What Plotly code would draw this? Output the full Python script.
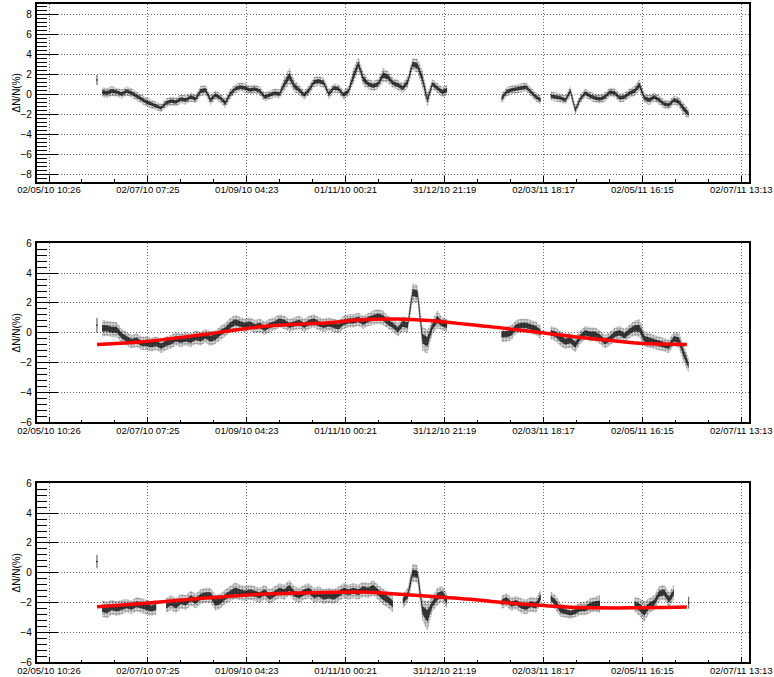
import pandas as pd
import plotly.graph_objects as go

N = None
# ---------------- data ----------------
# sampling times of the read band centres (about every 3 days)
SAMPLE_T = pd.date_range('2010-06-04 01:20', periods=120, freq='4370min')

# panel 1 : band centre and half width (ΔN/N in %)
P1_C = [0.2, 0.1, 0.3, 0.2, 0.0, 0.3, 0.1, -0.2, -0.5, -0.8,
        -1.0, -1.2, -1.4, -0.9, -0.7, -0.8, -0.5, -0.6, -0.3, -0.5,
        0.3, 0.4, -0.6, -0.1, -0.4, -0.9, 0.0, 0.5, 0.7, 0.6,
        0.4, 0.5, 0.3, -0.3, -0.1, 0.1, 0.0, 1.0, 1.8, 0.8,
        0.4, -0.1, 0.4, 1.2, 1.3, 1.1, 0.0, 0.6, 0.5, -0.1,
        0.3, 1.8, 3.0, 1.5, 1.0, 0.8, 1.0, 1.9, 1.7, 1.1,
        0.9, 0.6, 1.2, 3.0, 2.8, 1.5, -0.6, 1.0, 0.6, 0.2,
        0.4, N, N, N, N, N, N, N, N, N,
        N, -0.5, 0.2, 0.4, 0.5, 0.6, 0.7, 0.2, -0.3, -0.6,
        N, -0.2, -0.3, -0.4, -0.6, 0.3, -1.6, -0.5, 0.1, -0.2,
        -0.4, -0.5, -0.3, 0.2, 0.1, -0.4, -0.3, 0.1, 0.3, 0.9,
        -0.4, -0.6, -0.3, -0.6, -1.0, -1.1, -0.6, -0.8, -1.5, -2.0]
P1_S = [0.5, 0.5, 0.5, 0.45, 0.45, 0.45, 0.45, 0.45, 0.45, 0.45,
        0.45, 0.45, 0.4, 0.45, 0.45, 0.45, 0.45, 0.45, 0.45, 0.45,
        0.5, 0.5, 0.5, 0.45, 0.45, 0.5, 0.5, 0.45, 0.45, 0.45,
        0.45, 0.45, 0.45, 0.45, 0.45, 0.45, 0.45, 0.7, 0.8, 0.6,
        0.5, 0.45, 0.5, 0.5, 0.5, 0.5, 0.5, 0.45, 0.45, 0.45,
        0.5, 0.8, 0.7, 0.7, 0.5, 0.5, 0.5, 0.7, 0.6, 0.5,
        0.5, 0.5, 0.6, 0.6, 0.7, 0.9, 0.7, 0.5, 0.5, 0.5,
        0.5, N, N, N, N, N, N, N, N, N,
        N, 0.5, 0.45, 0.45, 0.45, 0.45, 0.45, 0.45, 0.45, 0.45,
        N, 0.45, 0.45, 0.45, 0.45, 0.5, 0.5, 0.45, 0.45, 0.45,
        0.45, 0.45, 0.45, 0.45, 0.45, 0.45, 0.45, 0.45, 0.5, 0.6,
        0.5, 0.5, 0.45, 0.45, 0.45, 0.45, 0.45, 0.5, 0.6, 0.5]

# panel 2
P2_C = [0.3, 0.3, 0.2, 0.2, -0.2, -0.4, -0.6, -0.5, -0.7, -0.7,
        -0.8, -0.7, -0.9, -0.7, -0.6, -0.4, -0.5, -0.4, -0.5, -0.3,
        -0.4, -0.2, -0.4, -0.3, 0.0, 0.2, 0.5, 0.7, 0.6, 0.5,
        0.6, 0.4, 0.5, 0.3, 0.5, 0.6, 0.8, 0.7, 0.5, 0.6,
        0.7, 0.5, 0.7, 0.8, 0.6, 0.5, 0.6, 0.5, 0.4, 0.7,
        0.8, 0.8, 0.9, 0.7, 0.9, 1.0, 1.1, 1.0, 0.7, 0.5,
        0.2, 0.6, 0.5, 2.7, 2.6, -0.4, -0.6, 0.4, 0.9, 0.6,
        0.5, N, N, N, N, N, N, N, N, N,
        N, -0.1, -0.1, 0.0, 0.4, 0.5, 0.5, 0.4, 0.3, 0.0,
        N, 0.0, -0.1, -0.4, -0.6, -0.5, -0.8, -0.3, 0.0, -0.1,
        -0.1, -0.3, -0.6, -0.4, -0.1, 0.0, -0.2, 0.1, 0.3, 0.3,
        -0.4, -0.5, -0.6, -0.7, -0.8, -0.9, -0.4, -0.5, -1.4, -2.2]
P2_S = [0.55, 0.5, 0.5, 0.5, 0.45, 0.45, 0.45, 0.45, 0.45, 0.45,
        0.45, 0.45, 0.45, 0.45, 0.45, 0.45, 0.45, 0.45, 0.45, 0.45,
        0.45, 0.45, 0.5, 0.45, 0.45, 0.45, 0.5, 0.5, 0.45, 0.45,
        0.45, 0.45, 0.45, 0.45, 0.45, 0.45, 0.45, 0.45, 0.45, 0.45,
        0.45, 0.45, 0.45, 0.45, 0.45, 0.45, 0.45, 0.45, 0.45, 0.45,
        0.45, 0.45, 0.45, 0.45, 0.45, 0.5, 0.5, 0.5, 0.45, 0.45,
        0.45, 0.5, 0.5, 0.6, 0.6, 0.8, 0.8, 0.5, 0.6, 0.45,
        0.45, N, N, N, N, N, N, N, N, N,
        N, 0.5, 0.5, 0.5, 0.45, 0.45, 0.45, 0.45, 0.45, 0.45,
        N, 0.45, 0.45, 0.5, 0.5, 0.5, 0.5, 0.45, 0.45, 0.45,
        0.45, 0.45, 0.45, 0.45, 0.45, 0.45, 0.45, 0.45, 0.5, 0.6,
        0.5, 0.45, 0.45, 0.45, 0.45, 0.45, 0.45, 0.5, 0.6, 0.5]

# panel 3
P3_C = [-2.4, -2.5, -2.3, -2.4, -2.3, -2.2, -2.3, -2.1, -2.2, -2.3,
        -2.4, -2.3, N, -2.2, -2.0, -2.2, -1.9, -2.0, -1.7, -1.9,
        -1.6, -1.5, -1.5, -2.0, -1.9, -1.6, -1.4, -1.2, -1.3, -1.4,
        -1.3, -1.4, -1.5, -1.3, -1.6, -1.4, -1.2, -1.3, -1.0, -1.4,
        -1.5, -1.3, -1.2, -1.5, -1.4, -1.6, -1.5, -1.6, -1.4, -1.2,
        -1.3, -1.2, -1.3, -1.1, -1.2, -1.0, -1.3, -1.6, -1.8, -2.1,
        N, -1.9, -1.5, 0.0, -0.1, -2.5, -2.9, -2.1, -1.6, -1.4,
        -1.9, N, N, N, N, N, N, N, N, N,
        N, -2.0, -1.8, -2.1, -2.0, -2.2, -2.3, -2.1, -2.2, -1.6,
        N, -1.7, -2.0, -2.5, -2.6, -2.7, -2.6, -2.4, -2.4, -2.2,
        -2.1, -2.1, N, N, N, N, N, N, -2.1, -2.3,
        -2.6, -2.2, -2.0, -1.4, -1.3, -1.8, -1.3, N, N, -2.0]
P3_S = [0.55, 0.55, 0.5, 0.5, 0.5, 0.45, 0.45, 0.5, 0.5, 0.5,
        0.5, 0.5, N, 0.5, 0.5, 0.5, 0.5, 0.5, 0.5, 0.5,
        0.5, 0.5, 0.5, 0.55, 0.5, 0.5, 0.5, 0.55, 0.5, 0.5,
        0.5, 0.5, 0.5, 0.5, 0.5, 0.5, 0.5, 0.5, 0.5, 0.5,
        0.5, 0.5, 0.5, 0.5, 0.5, 0.5, 0.5, 0.5, 0.5, 0.5,
        0.5, 0.5, 0.5, 0.5, 0.5, 0.5, 0.5, 0.55, 0.55, 0.55,
        N, 0.5, 0.5, 0.6, 0.6, 0.7, 1.0, 0.5, 0.6, 0.5,
        0.5, N, N, N, N, N, N, N, N, N,
        N, 0.45, 0.45, 0.45, 0.45, 0.5, 0.5, 0.5, 0.5, 0.5,
        N, 0.45, 0.5, 0.45, 0.4, 0.4, 0.4, 0.45, 0.45, 0.5,
        0.5, 0.6, N, N, N, N, N, N, 0.5, 0.6,
        0.7, 0.5, 0.5, 0.5, 0.5, 0.5, 0.5, N, N, 0.4]

# isolated first measurement (centre, half width) per panel
ISO_T = '2010-05-31 23:00'
ISO_C = [1.4, 0.5, 0.75]
ISO_S = [0.5, 0.5, 0.45]

# red fit curves (panels 2 and 3)
FIT2_T = ['2010-06-01', '2010-07-01', '2010-08-03', '2010-08-23', '2010-09-09',
          '2010-10-03', '2010-10-22', '2010-11-11', '2010-12-02', '2010-12-08',
          '2010-12-29', '2011-01-16', '2011-02-05', '2011-02-22', '2011-03-02',
          '2011-03-27', '2011-04-12', '2011-05-01', '2011-05-30']
FIT2_V = [-0.78, -0.58, -0.15, 0.15, 0.40, 0.58, 0.67, 0.88, 0.92, 0.90,
          0.76, 0.55, 0.33, 0.10, 0.0, -0.33, -0.50, -0.70, -0.78]
FIT3_T = ['2010-06-01', '2010-07-01', '2010-08-03', '2010-09-09', '2010-10-03',
          '2010-11-11', '2010-12-02', '2010-12-29', '2011-01-20', '2011-02-04',
          '2011-02-22', '2011-03-06', '2011-03-27', '2011-04-26', '2011-05-30']
FIT3_V = [-2.27, -2.04, -1.73, -1.44, -1.36, -1.29, -1.42, -1.62, -1.80, -1.98,
          -2.12, -2.22, -2.33, -2.35, -2.30]

# time-axis labels (local time, as printed) and their instants
X_TICKVALS = ['2010-05-02 10:26:55', '2010-07-02 07:25:03', '2010-09-01 04:23:12',
              '2010-11-01 01:21:20', '2010-12-31 22:19:29', '2011-03-02 19:17:38',
              '2011-05-02 16:15:46', '2011-07-02 13:13:55']
X_TICKTEXT = ['02/05/10 10:26', '02/07/10 07:25', '01/09/10 04:23', '01/11/10 00:21',
              '31/12/10 21:19', '02/03/11 18:17', '02/05/11 16:15', '02/07/11 13:13']
MINOR_DTICK_MS = 1753162857

Y_TITLE = 'ΔN/N(%)'
Y_RANGES = [[-8.77, 9.0], [-6.0, 6.0], [-6.0, 6.0]]
X_RANGE = ['2010-04-24 20:46', '2011-07-07 11:20']

# ---------------- figure ----------------
W, H = 774, 677
XDOM = [36.7 / W, 749.3 / W]
PANEL_PX = [(4.0, 181.7), (243.3, 422.3), (483.3, 662.3)]
FONT = 'Liberation Sans, Arial, Helvetica, sans-serif'

fig = go.Figure()
panels = [(P1_C, P1_S, None, None), (P2_C, P2_S, FIT2_T, FIT2_V), (P3_C, P3_S, FIT3_T, FIT3_V)]

for p, (cen, spr, ft, fv) in enumerate(panels):
    xa = 'x' if p == 0 else f'x{p+1}'
    ya = 'y' if p == 0 else f'y{p+1}'
    segs, cur = [], []
    for i, c in enumerate(cen):
        if c is None:
            if cur:
                segs.append(cur)
            cur = []
        else:
            cur.append(i)
    if cur:
        segs.append(cur)
    singles_t, singles_c, singles_s = [ISO_T], [ISO_C[p]], [ISO_S[p]]
    for seg in segs:
        if len(seg) == 1:
            i = seg[0]
            singles_t.append(SAMPLE_T[i]); singles_c.append(cen[i]); singles_s.append(spr[i])
            continue
        ts = [SAMPLE_T[i] for i in seg]
        # outer speckled cloud
        up = [cen[i] + spr[i] for i in seg]
        lo = [cen[i] - spr[i] for i in seg]
        fig.add_trace(go.Scatter(
            x=ts + ts[::-1], y=up + lo[::-1], xaxis=xa, yaxis=ya,
            mode='lines', line=dict(width=0), fill='toself',
            fillcolor='rgba(0,0,0,0)',
            fillpattern=dict(shape='.', fgcolor='black', bgcolor='rgba(0,0,0,0)',
                             size=3, solidity=0.5),
            hoverinfo='skip', showlegend=False))
        # dense core
        up = [cen[i] + 0.4 * spr[i] for i in seg]
        lo = [cen[i] - 0.4 * spr[i] for i in seg]
        fig.add_trace(go.Scatter(
            x=ts + ts[::-1], y=up + lo[::-1], xaxis=xa, yaxis=ya,
            mode='lines', line=dict(width=0), fill='toself',
            fillcolor='rgba(0,0,0,0.72)',
            hoverinfo='skip', showlegend=False))
    fig.add_trace(go.Scatter(
        x=singles_t, y=singles_c, xaxis=xa, yaxis=ya, mode='markers',
        marker=dict(size=1.5, color='black'),
        error_y=dict(type='data', array=singles_s, width=0, thickness=1, color='rgba(0,0,0,0.7)'),
        hoverinfo='skip', showlegend=False))
    if ft is not None:
        fig.add_trace(go.Scatter(x=ft, y=fv, xaxis=xa, yaxis=ya, mode='lines',
                                 line=dict(color='#ff0000', width=3.5, shape='spline'),
                                 hoverinfo='skip', showlegend=False))

layout = dict(width=W, height=H, margin=dict(l=0, r=0, t=0, b=0, autoexpand=False),
              paper_bgcolor='white', plot_bgcolor='white', showlegend=False,
              font=dict(family=FONT, size=10, color='black'))
annotations = []
for p in range(3):
    top, bot = PANEL_PX[p]
    xk = 'xaxis' if p == 0 else f'xaxis{p+1}'
    yk = 'yaxis' if p == 0 else f'yaxis{p+1}'
    ya = 'y' if p == 0 else f'y{p+1}'
    xa = 'x' if p == 0 else f'x{p+1}'
    layout[xk] = dict(
        type='date', domain=XDOM, anchor=ya, range=X_RANGE, automargin=False,
        tickmode='array', tickvals=X_TICKVALS, ticktext=X_TICKTEXT,
        ticks='inside', ticklen=6, tickwidth=1, tickcolor='black',
        showgrid=True, gridcolor='#666', griddash='1px,2px', gridwidth=1,
        showline=True, linecolor='black', linewidth=1.6, mirror=True,
        zeroline=False, tickfont=dict(family=FONT, size=9.5, color='black'),
        ticklabelstandoff=-2,
        minor=dict(tickmode='linear', tick0=X_TICKVALS[0], dtick=MINOR_DTICK_MS,
                   ticks='inside', ticklen=3, tickcolor='black', showgrid=False))
    layout[yk] = dict(
        domain=[1 - bot / H, 1 - top / H], anchor=xa, range=Y_RANGES[p], automargin=False,
        tick0=0, dtick=2, ticks='inside', ticklen=21, tickwidth=1, tickcolor='black',
        showgrid=True, gridcolor='#666', griddash='1px,2px', gridwidth=1,
        showline=True, linecolor='black', linewidth=1.6, mirror=True,
        zeroline=False, tickfont=dict(family=FONT, size=10, color='black'),
        ticklabelstandoff=1,
        minor=dict(tick0=0, dtick=0.4, ticks='inside', ticklen=10,
                   tickcolor='black', showgrid=False))
    annotations.append(dict(text=Y_TITLE, xref='paper', yref='paper',
                            x=16.7 / W, y=1 - (top + bot) / 2 / H, textangle=-90,
                            showarrow=False, xanchor='center', yanchor='middle',
                            font=dict(family=FONT, size=10, color='black')))
layout['annotations'] = annotations
fig.update_layout(**layout)
fig.write_html('out.html')
